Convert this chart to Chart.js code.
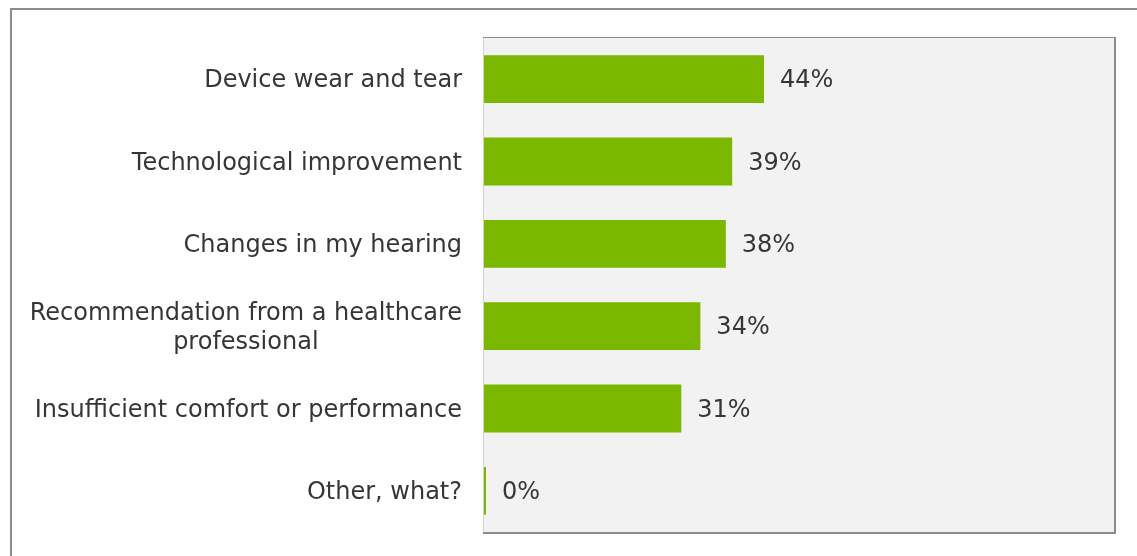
<!DOCTYPE html>
<html>
<head>
<meta charset="utf-8">
<script src="https://cdn.jsdelivr.net/npm/chart.js@4"></script>
<style>
  html, body { margin: 0; padding: 0; background: #fff; overflow: hidden; }
  #frame {
    position: absolute; left: 10px; top: 8px;
    width: 1200px; height: 620px;
    border-left: 2px solid #8c8c8c; border-top: 2px solid #8c8c8c;
  }
  #wrap { position: absolute; left: 0; top: 0; width: 1137px; height: 556px; }
</style>
</head>
<body>
<div id="frame"></div>
<div id="wrap"><canvas id="reasonsChart"></canvas></div>
<script>
// ── Data ──
const categories = [
  ['Device wear and tear'],
  ['Technological improvement'],
  ['Changes in my hearing'],
  ['Recommendation from a healthcare', 'professional'],
  ['Insufficient comfort or performance'],
  ['Other, what?']
];
const shares = [44, 39, 38, 34, 31, 0];

const FONT = '24px "DejaVu Sans", Verdana, sans-serif';
const TEXT_COLOR = '#363636';
const BAR_COLOR = '#7ab800';

// grey panel behind the bars, with its frame
const panelPlugin = {
  id: 'panel',
  beforeDraw(chart) {
    const { ctx, chartArea: a } = chart;
    ctx.save();
    ctx.fillStyle = '#f2f2f2';
    ctx.fillRect(a.left, a.top, a.right - a.left, a.bottom - a.top);
    ctx.fillStyle = '#d4d4d4';
    ctx.fillRect(a.left - 1, a.top, 1, a.bottom - a.top);
    ctx.fillStyle = '#8c8c8c';
    ctx.fillRect(a.left - 1, a.top - 1, a.right - a.left + 1, 1);
    ctx.fillRect(a.right, a.top - 1, 2, a.bottom - a.top + 3);
    ctx.fillRect(a.left - 1, a.bottom, a.right - a.left + 3, 2);
    ctx.restore();
  }
};

// category names on the left (block right-aligned, lines centred) and % values after bars
const labelPlugin = {
  id: 'labels',
  afterDatasetsDraw(chart) {
    const { ctx, chartArea: a } = chart;
    const yScale = chart.scales.y;
    const lineH = 29;
    const dy = 2;
    ctx.save();
    ctx.font = FONT;
    ctx.fillStyle = TEXT_COLOR;
    ctx.textBaseline = 'middle';
    categories.forEach((lines, i) => {
      const y = yScale.getPixelForValue(i) + dy;
      const widest = Math.max(...lines.map(l => ctx.measureText(l).width));
      const cx = a.left - 22 - widest / 2;
      ctx.textAlign = 'center';
      lines.forEach((l, k) => {
        ctx.fillText(l, cx, y + (k - (lines.length - 1) / 2) * lineH);
      });
    });
    const meta = chart.getDatasetMeta(0);
    ctx.textAlign = 'left';
    meta.data.forEach((bar, i) => {
      ctx.fillText(shares[i] + '%', Math.max(bar.x, a.left + 2) + 16, bar.y + dy);
    });
    ctx.restore();
  }
};

new Chart(document.getElementById('reasonsChart'), {
  type: 'bar',
  data: {
    labels: categories,
    datasets: [{
      data: shares,
      backgroundColor: BAR_COLOR,
      borderWidth: 0,
      barPercentage: 0.58,
      categoryPercentage: 1,
      minBarLength: 2
    }]
  },
  options: {
    indexAxis: 'y',
    responsive: true,
    maintainAspectRatio: false,
    animation: false,
    layout: { padding: { left: 484, top: 38, right: 23, bottom: 24 } },
    plugins: { legend: { display: false }, tooltip: { enabled: false } },
    scales: {
      x: { display: false, min: 0, max: 99 },
      y: { display: false }
    }
  },
  plugins: [panelPlugin, labelPlugin]
});
</script>
</body>
</html>
